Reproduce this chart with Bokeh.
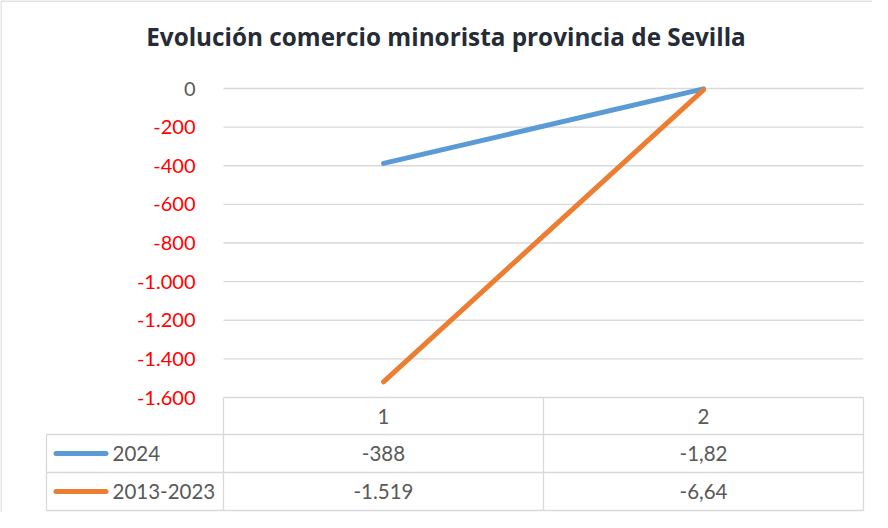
from bokeh.plotting import figure
from bokeh.models import Range1d, FixedTicker, LinearAxis
from bokeh.embed import file_html
from bokeh.resources import INLINE
from bokeh.core.properties import value

# ---------------- data ----------------
title_text = "Evolución comercio minorista provincia de Sevilla"
categories = ["1", "2"]
series_names = ["2024", "2013-2023"]
values_2024 = [-388, -1.82]
values_2013_2023 = [-1519, -6.64]
series_colors = ["#5b9bd5", "#ed7d31"]
y_ticks = [-1600, -1400, -1200, -1000, -800, -600, -400, -200, 0]

series_values = [values_2024, values_2013_2023]


def fmt_es(v):
    if float(v).is_integer():
        return f"{int(v):,}".replace(",", ".")
    s = f"{v:,.2f}"
    return s.replace(",", "X").replace(".", ",").replace("X", ".")


# ---------------- layout constants (canvas pixels) ----------------
W, H = 872, 512
COLW = 320                 # width of one category column
CAT1_PX = 383              # centre of first category
Y0_PX = 88                 # pixel row of value 0
YMIN_PX = 397              # pixel row of lowest tick
PPU = (YMIN_PX - Y0_PX) / (max(y_ticks) - min(y_ticks))   # px per data unit

FONT = "Lato"
TITLE_FONT = "Open Sans"
GRAY = "#595959"
GRID = "#d9d9d9"

x_pos = [i + 1 for i in range(len(categories))]          # category positions
x_start = 1 - CAT1_PX / COLW
x_end = x_start + W / COLW
y_end = max(y_ticks) + Y0_PX / PPU
y_start = y_end - H / PPU

p = figure(width=W, height=H, x_range=Range1d(x_start, x_end), y_range=Range1d(y_start, y_end),
           output_backend="svg", toolbar_location=None,
           x_axis_location=None, y_axis_location=None, min_border=0)
p.outline_line_color = None
p.grid.visible = False
p.background_fill_color = "white"

# pixel helper ranges for title / table layout
p.extra_x_ranges["px"] = Range1d(0, W)
p.extra_y_ranges["px"] = Range1d(H, 0)
PX = dict(x_range_name="px", y_range_name="px")

# chart border (top / left)
p.segment(x0=[0.5, 0.5], x1=[W, 0.5], y0=[0.5, 0.5], y1=[0.5, H], line_color=GRID,
          line_width=1.3, **PX)

# ---------------- title ----------------
p.text(x=[445.5], y=[36], text=[title_text], text_align="center",
       text_baseline="middle", text_font=value(TITLE_FONT), text_font_style="bold",
       text_font_size=value("24.3px"), text_color="#262c36", **PX)

# ---------------- chart ----------------
left_edge = x_pos[0] - 0.5
right_edge = x_pos[-1] + 0.5
p.segment(x0=[left_edge] * len(y_ticks), x1=[right_edge] * len(y_ticks),
          y0=y_ticks, y1=y_ticks, line_color=GRID, line_width=1.3)

def make_axis(ticks, color):
    ax = LinearAxis(fixed_location=left_edge, ticker=FixedTicker(ticks=ticks))
    ax.major_label_overrides = {t: fmt_es(t) for t in ticks}
    ax.axis_line_color = None
    ax.major_tick_line_color = None
    ax.minor_tick_line_color = None
    ax.major_tick_out = 0
    ax.major_tick_in = 0
    ax.major_label_standoff = 28
    ax.major_label_text_color = color
    ax.major_label_text_font = FONT
    ax.major_label_text_font_size = "20px"
    return ax

p.add_layout(make_axis([t for t in y_ticks if t < 0], "#ff0000"), "left")
p.add_layout(make_axis([t for t in y_ticks if t >= 0], GRAY), "left")

for vals, col in zip(series_values, series_colors):
    p.line(x=x_pos, y=vals, line_width=5, line_color=col,
           line_cap="round", line_join="round")

# ---------------- data table (pixel layout) ----------------
LEG_LEFT = 46
TOP = YMIN_PX
HEAD_B = 434
ROW_H = 38
row_bottoms = [HEAD_B + ROW_H * (i + 1) for i in range(len(series_names))]
col_edges = [CAT1_PX - COLW / 2 + COLW * i for i in range(len(categories) + 1)]
col_centers = [CAT1_PX + COLW * i for i in range(len(categories))]

hy = [HEAD_B] + row_bottoms
p.segment(x0=[LEG_LEFT] * len(hy), x1=[col_edges[-1]] * len(hy), y0=hy, y1=hy,
          line_color=GRID, line_width=1.3, **PX)
p.segment(x0=[LEG_LEFT], x1=[LEG_LEFT], y0=[HEAD_B], y1=[row_bottoms[-1]],
          line_color=GRID, line_width=1.3, **PX)
p.segment(x0=col_edges, x1=col_edges, y0=[TOP] * len(col_edges),
          y1=[row_bottoms[-1]] * len(col_edges), line_color=GRID, line_width=1.3, **PX)

txt = dict(text_font=value(FONT), text_font_size=value("20.5px"), text_color=GRAY,
           text_baseline="middle")
p.text(x=col_centers, y=[(TOP + HEAD_B) / 2] * len(categories), text=categories,
       text_align="center", **txt, **PX)
for i, (name, vals, col) in enumerate(zip(series_names, series_values, series_colors)):
    yc = HEAD_B + ROW_H * (i + 0.5)
    p.segment(x0=[55.5], x1=[105.5], y0=[yc], y1=[yc], line_color=col,
              line_width=5, line_cap="round", **PX)
    p.text(x=[112], y=[yc], text=[name], text_align="left", **txt, **PX)
    p.text(x=col_centers, y=[yc] * len(vals), text=[fmt_es(v) for v in vals],
           text_align="center", **txt, **PX)

open("out.html", "w").write(file_html(p, INLINE))
